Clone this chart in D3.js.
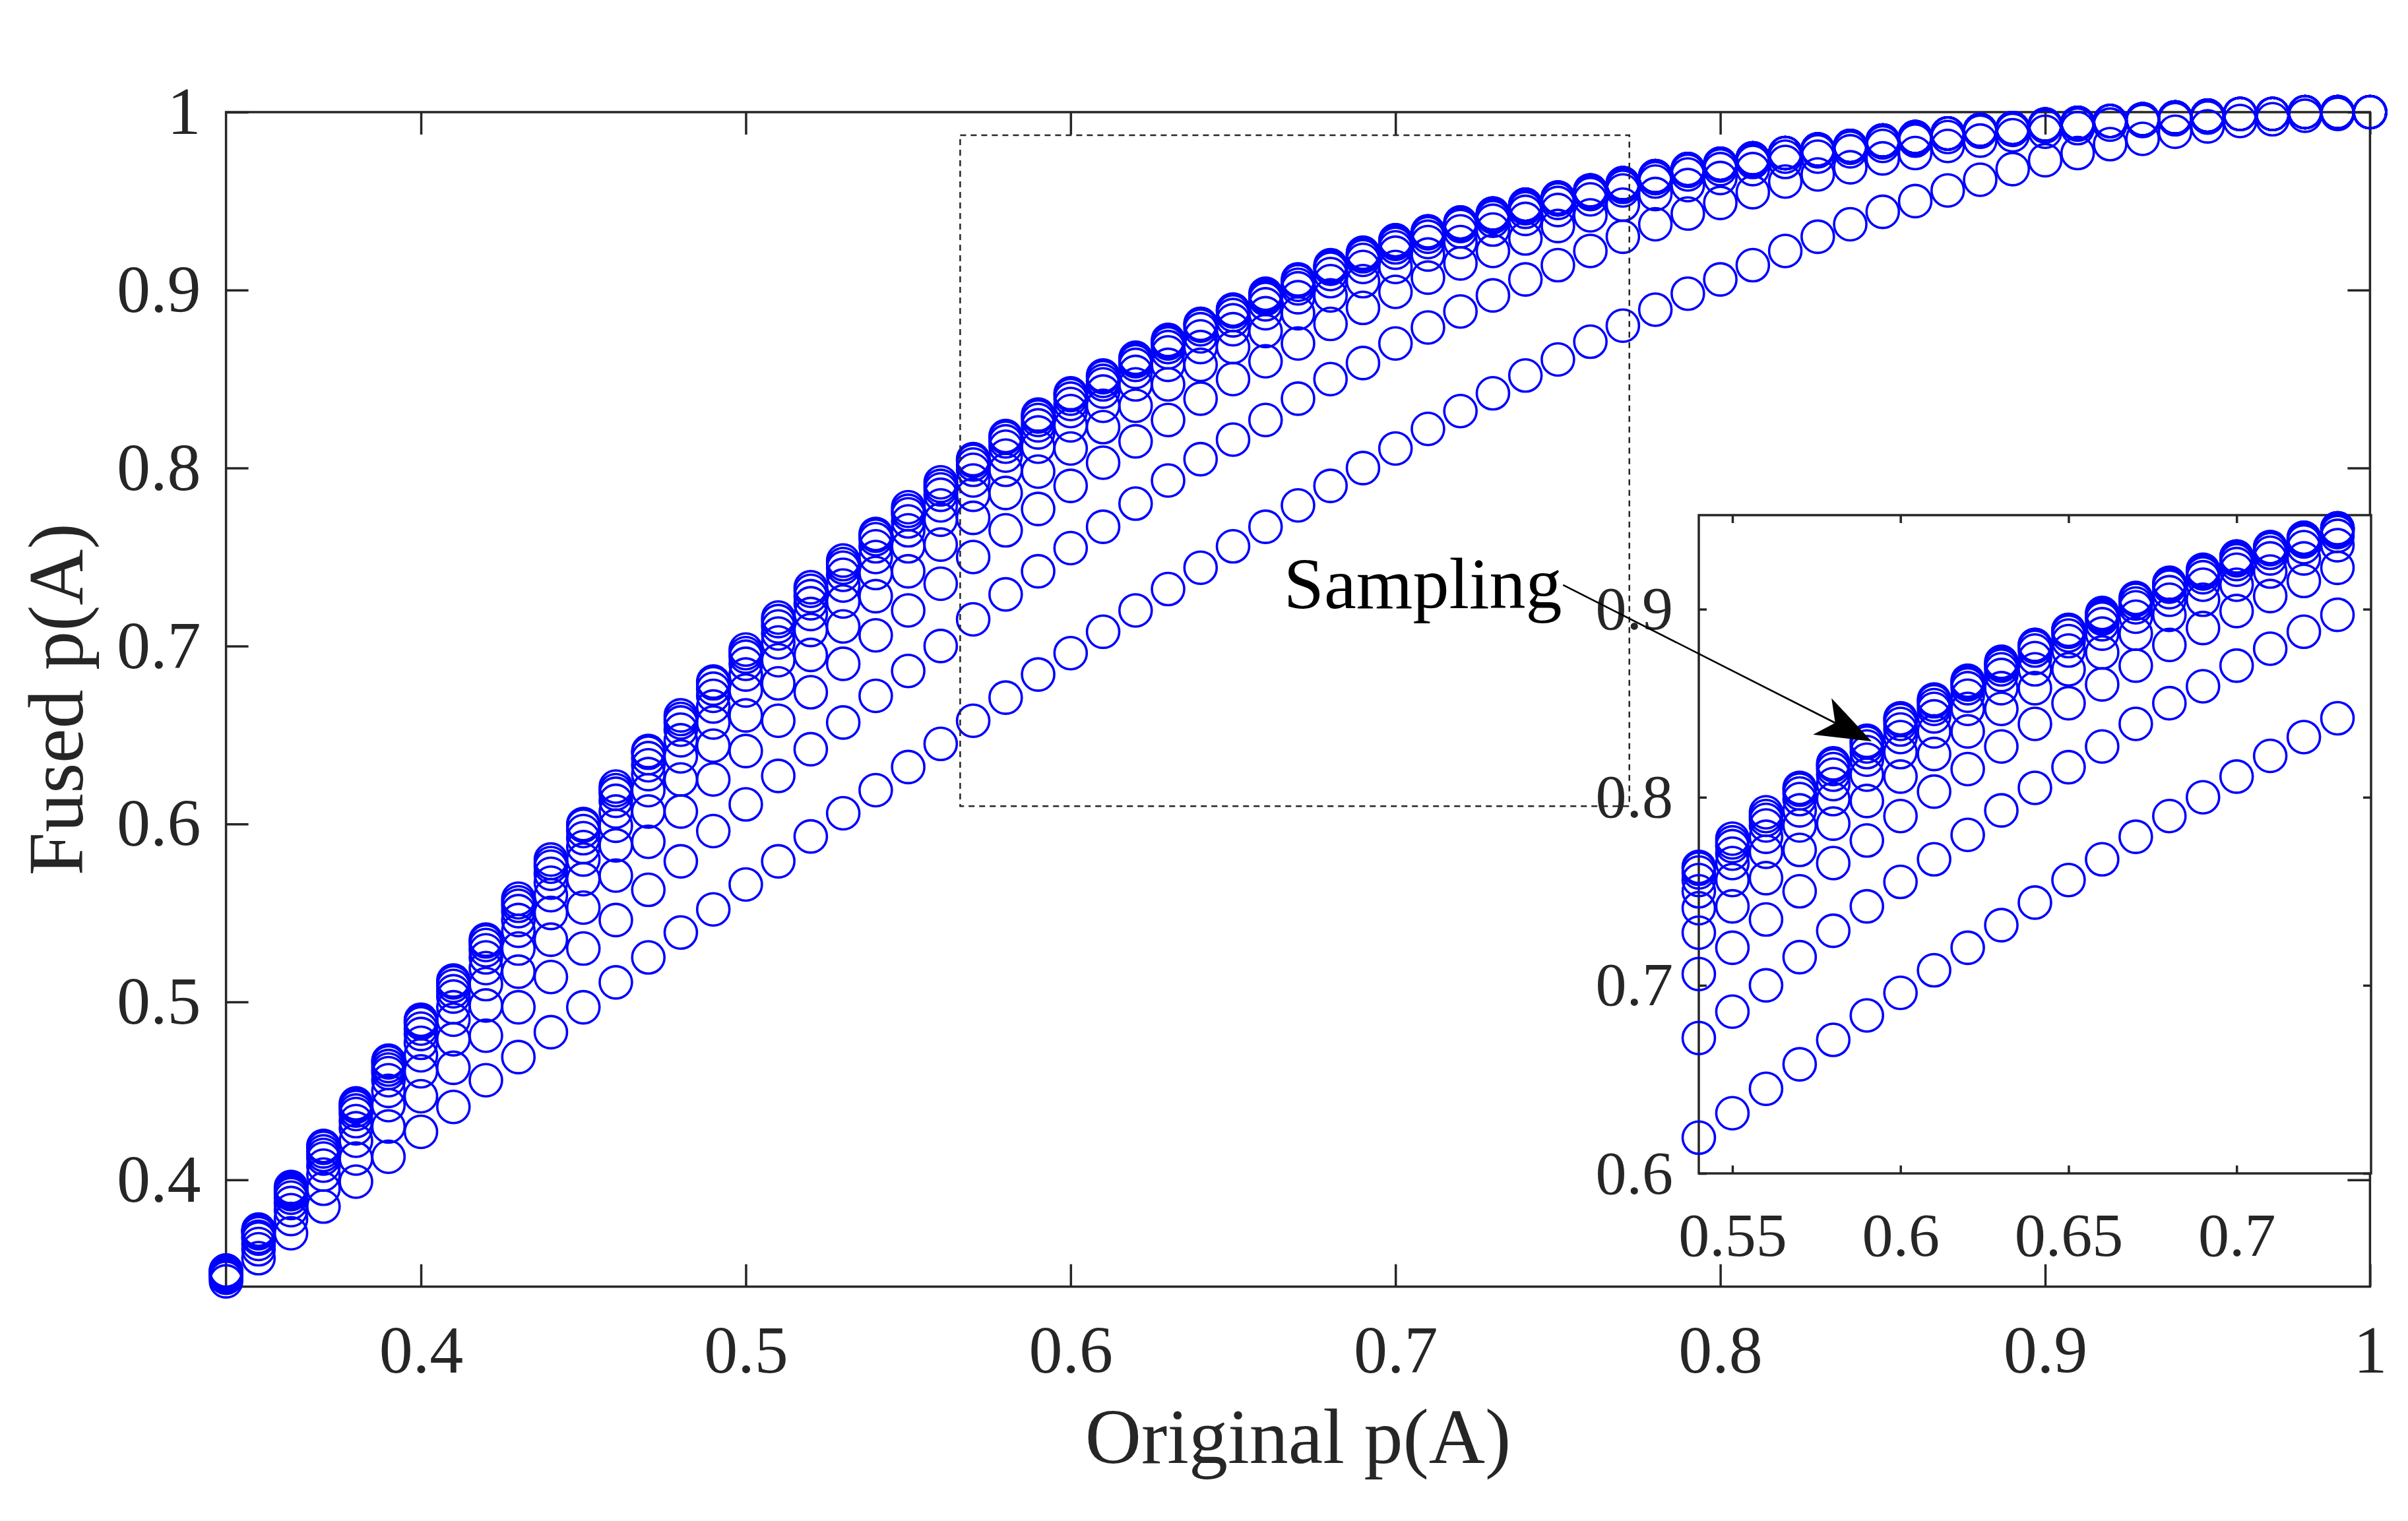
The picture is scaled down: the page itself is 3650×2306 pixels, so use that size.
<!DOCTYPE html>
<html><head><meta charset="utf-8">
<script src="https://cdn.jsdelivr.net/npm/d3@7"></script>
<style>html,body{margin:0;padding:0;background:#fff;} svg{display:block;}</style>
</head><body>
<svg id="chart" width="3650" height="2306"></svg>
<script>
// ---------- data ----------
const xValues = [0.34,0.35,0.36,0.37,0.38,0.39,0.40,0.41,0.42,0.43,
  0.44,0.45,0.46,0.47,0.48,0.49,0.50,0.51,0.52,0.53,
  0.54,0.55,0.56,0.57,0.58,0.59,0.60,0.61,0.62,0.63,
  0.64,0.65,0.66,0.67,0.68,0.69,0.70,0.71,0.72,0.73,
  0.74,0.75,0.76,0.77,0.78,0.79,0.80,0.81,0.82,0.83,
  0.84,0.85,0.86,0.87,0.88,0.89,0.90,0.91,0.92,0.93,
  0.94,0.95,0.96,0.97,0.98,0.99,1.00];

const series1 = [0.343,0.356,0.370,0.385,0.399,0.413,0.427,0.441,0.456,0.469,
  0.483,0.497,0.511,0.525,0.539,0.552,0.566,0.579,0.593,0.606,
  0.619,0.632,0.645,0.658,0.671,0.684,0.696,0.708,0.720,0.732,
  0.744,0.756,0.767,0.779,0.790,0.800,0.811,0.822,0.832,0.842,
  0.852,0.861,0.871,0.880,0.889,0.898,0.906,0.914,0.922,0.930,
  0.937,0.944,0.950,0.956,0.962,0.968,0.973,0.977,0.982,0.985,
  0.989,0.992,0.995,0.996,0.998,0.999,1.000];
const series2 = [0.345,0.361,0.378,0.395,0.412,0.430,0.447,0.463,0.481,0.497,
  0.514,0.530,0.546,0.563,0.579,0.596,0.611,0.627,0.642,0.657,
  0.672,0.686,0.700,0.715,0.729,0.742,0.755,0.767,0.780,0.793,
  0.805,0.816,0.827,0.839,0.850,0.859,0.870,0.879,0.888,0.897,
  0.906,0.914,0.922,0.930,0.937,0.943,0.949,0.955,0.961,0.965,
  0.969,0.974,0.977,0.981,0.984,0.987,0.989,0.991,0.993,0.995,
  0.996,0.997,0.999,0.999,1.000,1.000,1.000];
const series3 = [0.346,0.364,0.383,0.403,0.422,0.442,0.461,0.479,0.498,0.517,
  0.535,0.553,0.571,0.590,0.607,0.625,0.641,0.658,0.674,0.690,
  0.706,0.720,0.735,0.750,0.765,0.777,0.790,0.803,0.815,0.827,
  0.839,0.850,0.860,0.870,0.881,0.890,0.899,0.907,0.915,0.922,
  0.929,0.936,0.942,0.948,0.954,0.959,0.963,0.968,0.972,0.975,
  0.978,0.981,0.984,0.986,0.989,0.990,0.992,0.993,0.995,0.996,
  0.997,0.998,0.999,0.999,1.000,1.000,1.000];
const series4 = [0.347,0.367,0.387,0.408,0.429,0.450,0.470,0.490,0.510,0.530,
  0.550,0.569,0.588,0.607,0.625,0.644,0.661,0.679,0.695,0.711,
  0.728,0.742,0.757,0.772,0.786,0.798,0.811,0.823,0.835,0.847,
  0.858,0.868,0.877,0.887,0.897,0.905,0.913,0.920,0.927,0.934,
  0.940,0.945,0.951,0.956,0.961,0.965,0.968,0.972,0.975,0.978,
  0.980,0.983,0.985,0.988,0.990,0.991,0.993,0.994,0.995,0.996,
  0.997,0.998,0.999,0.999,1.000,1.000,1.000];
const series5 = [0.347,0.368,0.390,0.412,0.433,0.456,0.477,0.497,0.519,0.540,
  0.560,0.580,0.599,0.619,0.638,0.657,0.675,0.692,0.709,0.725,
  0.741,0.756,0.771,0.785,0.799,0.812,0.824,0.835,0.847,0.858,
  0.868,0.878,0.887,0.896,0.905,0.913,0.921,0.927,0.933,0.939,
  0.944,0.949,0.954,0.958,0.963,0.967,0.970,0.973,0.977,0.979,
  0.981,0.984,0.986,0.988,0.990,0.991,0.993,0.994,0.995,0.996,
  0.997,0.998,0.999,0.999,1.000,1.000,1.000];
const series6 = [0.348,0.370,0.392,0.414,0.437,0.460,0.482,0.503,0.525,0.546,
  0.567,0.587,0.607,0.628,0.647,0.666,0.684,0.702,0.718,0.734,
  0.750,0.765,0.779,0.793,0.807,0.820,0.832,0.843,0.854,0.865,
  0.874,0.883,0.892,0.901,0.909,0.917,0.924,0.930,0.936,0.941,
  0.946,0.951,0.955,0.959,0.963,0.968,0.971,0.974,0.977,0.979,
  0.981,0.984,0.986,0.988,0.990,0.991,0.993,0.994,0.995,0.996,
  0.997,0.998,0.999,0.999,1.000,1.000,1.000];
const series7 = [0.348,0.371,0.393,0.416,0.439,0.462,0.485,0.506,0.529,0.551,
  0.572,0.592,0.613,0.633,0.653,0.672,0.690,0.707,0.724,0.740,
  0.756,0.770,0.785,0.799,0.812,0.824,0.836,0.847,0.858,0.868,
  0.878,0.886,0.895,0.903,0.912,0.919,0.926,0.932,0.937,0.942,
  0.947,0.951,0.956,0.960,0.964,0.968,0.971,0.974,0.977,0.979,
  0.981,0.984,0.986,0.988,0.990,0.991,0.993,0.994,0.995,0.996,
  0.997,0.998,0.999,0.999,1.000,1.000,1.000];
const series8 = [0.348,0.371,0.394,0.418,0.441,0.464,0.488,0.509,0.532,0.554,
  0.576,0.596,0.617,0.637,0.657,0.676,0.694,0.711,0.728,0.744,
  0.760,0.774,0.788,0.802,0.815,0.827,0.839,0.849,0.860,0.870,
  0.880,0.888,0.896,0.905,0.913,0.920,0.927,0.932,0.937,0.943,
  0.948,0.952,0.956,0.960,0.964,0.968,0.971,0.974,0.977,0.979,
  0.981,0.984,0.986,0.988,0.990,0.991,0.993,0.994,0.995,0.996,
  0.997,0.998,0.999,0.999,1.000,1.000,1.000];
const series9 = [0.349,0.372,0.395,0.419,0.442,0.466,0.489,0.511,0.534,0.556,
  0.578,0.599,0.619,0.640,0.659,0.679,0.696,0.714,0.731,0.746,
  0.762,0.776,0.790,0.804,0.817,0.829,0.841,0.851,0.861,0.871,
  0.881,0.889,0.897,0.905,0.913,0.920,0.928,0.933,0.938,0.943,
  0.948,0.952,0.956,0.960,0.964,0.968,0.971,0.974,0.977,0.979,
  0.981,0.984,0.986,0.988,0.990,0.991,0.993,0.994,0.995,0.996,
  0.997,0.998,0.999,0.999,1.000,1.000,1.000];
const series10 = [0.349,0.372,0.396,0.419,0.443,0.467,0.490,0.512,0.535,0.558,
  0.580,0.600,0.621,0.641,0.661,0.680,0.698,0.716,0.733,0.748,
  0.763,0.778,0.792,0.805,0.818,0.830,0.842,0.852,0.862,0.872,
  0.881,0.889,0.898,0.906,0.914,0.921,0.928,0.933,0.938,0.943,
  0.948,0.952,0.956,0.960,0.964,0.968,0.971,0.974,0.977,0.979,
  0.981,0.984,0.986,0.988,0.990,0.991,0.993,0.994,0.995,0.996,
  0.997,0.998,0.999,0.999,1.000,1.000,1.000];

const seriesList = [series1,series2,series3,series4,series5,series6,series7,series8,series9,series10];

const mainXTicks = [0.4,0.5,0.6,0.7,0.8,0.9,1];
const mainYTicks = [0.4,0.5,0.6,0.7,0.8,0.9,1];
const insetXTicks = [0.55,0.6,0.65,0.7];
const insetYTicks = [0.6,0.7,0.8,0.9];
const xLabel = "Original p(A)";
const yLabel = "Fused p(A)";
const annotationLabel = "Sampling";

// ---------- layout ----------
const FONT = "'Liberation Serif', 'Times New Roman', serif";
const AX = "#262626";
const BLUE = "#0000ff";
const svg = d3.select("#chart");
svg.append("rect").attr("width",3650).attr("height",2306).attr("fill","#fff");

const main = {x0:342.6, x1:3592.4, y0:170, y1:1950.7};
const xMain = d3.scaleLinear().domain([0.34,1]).range([main.x0, main.x1]);
const yMain = d3.scaleLinear().domain([0.34,1]).range([main.y1, main.y0]);

const ins = {x0:2575, x1:3594, y0:781, y1:1779};
const xIns = d3.scaleLinear().domain([0.54,0.74]).range([ins.x0, ins.x1]);
const yIns = d3.scaleLinear().domain([0.6,0.95]).range([ins.y1, ins.y0]);

function styleAxis(g, fs){
  g.attr("font-family", FONT).attr("font-size", fs);
  g.select(".domain").remove();
  g.selectAll(".tick line").attr("stroke", AX).attr("stroke-width", 3.5);
  g.selectAll(".tick text").attr("fill", AX);
}

function drawAxes(layer, xs, ys, box, xt, yt, tl, fs, padB, padL){
  const fmt = d => String(d);
  layer.append("g").attr("transform",`translate(0,${box.y1})`)
    .call(d3.axisBottom(xs).tickValues(xt).tickFormat(fmt).tickSizeInner(-tl).tickSizeOuter(0).tickPadding(padB))
    .call(g=>styleAxis(g,fs));
  layer.append("g").attr("transform",`translate(0,${box.y0})`)
    .call(d3.axisTop(xs).tickValues(xt).tickFormat("").tickSizeInner(-tl).tickSizeOuter(0))
    .call(g=>styleAxis(g,fs));
  layer.append("g").attr("transform",`translate(${box.x0},0)`)
    .call(d3.axisLeft(ys).tickValues(yt).tickFormat(fmt).tickSizeInner(-tl).tickSizeOuter(0).tickPadding(padL))
    .call(g=>styleAxis(g,fs));
  layer.append("g").attr("transform",`translate(${box.x1},0)`)
    .call(d3.axisRight(ys).tickValues(yt).tickFormat("").tickSizeInner(-tl).tickSizeOuter(0))
    .call(g=>styleAxis(g,fs));
  layer.append("rect").attr("x",box.x0).attr("y",box.y0)
    .attr("width",box.x1-box.x0).attr("height",box.y1-box.y0)
    .attr("fill","none").attr("stroke",AX).attr("stroke-width",3.5);
}

function drawMarkers(layer, xs, ys, filter){
  seriesList.forEach((s, k) => {
    const pts = xValues.map((x,i)=>({x:x, y:s[i]})).filter(filter);
    layer.append("g").attr("class","series-"+(k+1))
      .selectAll("circle").data(pts).join("circle")
      .attr("cx", d=>xs(d.x)).attr("cy", d=>ys(d.y)).attr("r", 24.5)
      .attr("fill","none").attr("stroke",BLUE).attr("stroke-width",3.6);
  });
}

// ---------- main axes ----------
const gMain = svg.append("g");
drawAxes(gMain, xMain, yMain, main, mainXTicks, mainYTicks, 34, 102, 58, 38);
drawMarkers(gMain, xMain, yMain, d=>true);

// zoom rectangle (dashed)
const zoomBox = {xa:0.566, xb:0.772, ya:0.61, yb:0.987};
gMain.append("rect")
  .attr("x", xMain(zoomBox.xa)).attr("y", yMain(zoomBox.yb))
  .attr("width", xMain(zoomBox.xb)-xMain(zoomBox.xa))
  .attr("height", yMain(zoomBox.ya)-yMain(zoomBox.yb))
  .attr("fill","none").attr("stroke",AX).attr("stroke-width",2.5).attr("stroke-dasharray","9 7");

// axis labels
svg.append("text").attr("x",(main.x0+main.x1)/2).attr("y",2218)
  .attr("text-anchor","middle").attr("font-family",FONT).attr("font-size",118).attr("fill",AX).text(xLabel);
svg.append("text").attr("transform",`translate(125,${(main.y0+main.y1)/2}) rotate(-90)`)
  .attr("text-anchor","middle").attr("font-family",FONT).attr("font-size",118).attr("fill",AX).text(yLabel);

// ---------- inset ----------
const gIns = svg.append("g");
gIns.append("rect").attr("x",ins.x0).attr("y",ins.y0).attr("width",ins.x1-ins.x0).attr("height",ins.y1-ins.y0).attr("fill","#fff");
drawAxes(gIns, xIns, yIns, ins, insetXTicks, insetYTicks, 12, 94, 58, 39);
drawMarkers(gIns, xIns, yIns, d => d.x >= 0.54 && d.x <= 0.735 && d.y >= 0.6 && d.y <= 0.95);

// ---------- annotation ----------
const annText = {x:0.6656, y:0.7214};
const arrow = {x1:0.7516, y1:0.7343, x2:0.8466, y2:0.6464};
svg.append("text").attr("x", xMain(annText.x)).attr("y", yMain(annText.y))
  .attr("font-family",FONT).attr("font-size",110).attr("fill","#000").text(annotationLabel);
(function(){
  const sx = xMain(arrow.x1), sy = yMain(arrow.y1), ex = xMain(arrow.x2), ey = yMain(arrow.y2);
  const L = Math.hypot(ex-sx, ey-sy), ux = (ex-sx)/L, uy = (ey-sy)/L, px = -uy, py = ux;
  const hl = 84, hw = 31, notch = 62;
  const nx = ex - ux*notch, ny = ey - uy*notch;
  svg.append("line").attr("x1",sx).attr("y1",sy).attr("x2",nx).attr("y2",ny)
    .attr("stroke","#000").attr("stroke-width",2.6);
  const pts = [[ex,ey],[ex-ux*hl+px*hw, ey-uy*hl+py*hw],[nx,ny],[ex-ux*hl-px*hw, ey-uy*hl-py*hw]];
  svg.append("polygon").attr("points", pts.map(p=>p.join(",")).join(" ")).attr("fill","#000");
})();
</script>
</body></html>
